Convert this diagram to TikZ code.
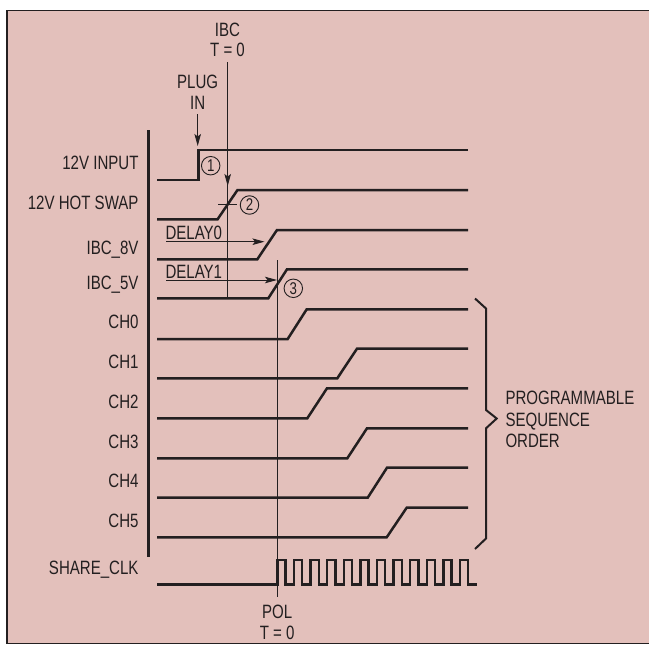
\documentclass[tikz,border=0pt]{standalone}
\usepackage{fontspec}
\setmainfont[FakeStretch=0.78]{Liberation Sans}
\usetikzlibrary{arrows.meta}
\definecolor{bg}{RGB}{227,192,187}
\definecolor{ink}{RGB}{35,31,32}
\begin{document}
\begin{tikzpicture}[x=1pt,y=-1pt,
  every node/.style={inner sep=0pt, outer sep=0pt, text=ink, font=\fontsize{19.3}{21.5}\selectfont},
  lab/.style={anchor=base east},
  toplab/.style={anchor=base},
  sig/.style={draw=ink, line width=2.5pt},
  thinl/.style={draw=ink, line width=0.9pt},
  tip/.style={-{Stealth[length=12pt,width=6.5pt,inset=2.5pt]}},
  circnum/.style={circle, draw=ink, line width=0.9pt, minimum size=18.5pt, font=\fontsize{17}{17}\selectfont}]
\useasboundingbox (0,0) rectangle (649,648);
\fill[white] (-10,-10) rectangle (660,660);
\fill[bg] (7,10.5) rectangle (660,643.5);
\draw[ink, line width=1.2pt] (660,10.5) -- (7,10.5) -- (7,643.5) -- (660,643.5);

% axis
\draw[ink, line width=2.7pt] (148.3,130) -- (148.3,557);

% labels
\node[lab] (l1) at (138.5,169.5) {12V INPUT};
\node[lab] (l2) at (138.5,209.5) {12V HOT SWAP};
\node[lab] (l3) at (138.5,254.5) {IBC\_8V};
\node[lab] (l4) at (138.5,289.5) {IBC\_5V};
\node[lab] (l5) at (138.5,328.3) {CH0};
\node[lab] (l6) at (138.5,368.3) {CH1};
\node[lab] (l7) at (138.5,408) {CH2};
\node[lab] (l8) at (138.5,448.3) {CH3};
\node[lab] (l9) at (138.5,487.8) {CH4};
\node[lab] (l10) at (138.5,527.3) {CH5};
\node[lab] (l11) at (138.5,574.7) {SHARE\_CLK};

% top labels
\node[toplab] (ibc1) at (227.5,36) {IBC};
\node[toplab] (ibc2) at (227.5,56.7) {T = 0};
\node[toplab] (plug1) at (197.7,88.3) {PLUG};
\node[toplab] (plug2) at (197.7,109.3) {IN};
\node[toplab] (pol1) at (277.2,618.3) {POL};
\node[toplab] (pol2) at (277.2,639.3) {T = 0};

% delay labels
\node[anchor=base west] (d0) at (165.5,239) {DELAY0};
\node[anchor=base west] (d1) at (165.5,278.3) {DELAY1};

% programmable
\node[anchor=base west] (p1) at (505.5,404) {PROGRAMMABLE};
\node[anchor=base west] (p2) at (505.5,426) {SEQUENCE};
\node[anchor=base west] (p3) at (505.5,447.3) {ORDER};

% signals
\draw[sig] (157,180) -- (198.3,180) -- (198.3,150) -- (468,150);
\draw[sig] (157,219.4) -- (217.5,219.4) -- (237.5,190) -- (468,190);
\draw[sig] (157,259.3) -- (257.3,259.3) -- (277,230) -- (468,230);
\draw[sig] (157,298.3) -- (268.3,298.3) -- (287,269.3) -- (468,269.3);
\draw[sig] (157,339) -- (287.7,339) -- (306.7,309.3) -- (468,309.3);
\draw[sig] (157,378.3) -- (337.3,378.3) -- (357,348.7) -- (468,348.7);
\draw[sig] (157,418.3) -- (307.3,418.3) -- (327,388.3) -- (468,388.3);
\draw[sig] (157,458.3) -- (347.3,458.3) -- (367,428.3) -- (468,428.3);
\draw[sig] (157,497.7) -- (367.7,497.7) -- (387,467.7) -- (468,467.7);
\draw[sig] (157,537.3) -- (386.7,537.3) -- (406.7,507.7) -- (468,507.7);
% clock
\draw[sig, line width=2.4pt] (157,584.3) -- (277.3,584.3)
  \foreach \i in {1,...,12} { -- ++(0,-24.3) -- ++(8.3,0) -- ++(0,24.3) -- ++(8.3,0) };

% thin time lines
\coordinate (ibctop) at (227.7,62);
\coordinate (ibctip) at (227.7,186);
\coordinate (ibcbot) at (227.7,298.3);
\draw[thinl] (ibctop) -- (ibcbot);
\draw[thinl, tip] (ibctop) -- (ibctip);
\coordinate (poltop) at (277.7,260);
\coordinate (polbot) at (277.7,597);
\draw[thinl] (poltop) -- (polbot);

% plug in arrow
\coordinate (plugs) at (197.7,114);
\coordinate (plugt) at (197.7,146);
\draw[thinl, tip] (plugs) -- (plugt);

% delay arrows
\coordinate (d0s) at (166,241.7);
\coordinate (d0t) at (264.5,241.7);
\draw[thinl, tip] (d0s) -- (d0t);
\coordinate (d1s) at (166,280);
\coordinate (d1t) at (277,280);
\draw[thinl, tip] (d1s) -- (d1t);

% tick on hot swap
\coordinate (tk1) at (218,204);
\coordinate (tk2) at (237,204);
\draw[thinl] (tk1) -- (tk2);

% circled numbers
\node[circnum] (c1) at (210.7,165.7) {1};
\node[circnum] (c2) at (249.5,205) {2};
\node[circnum] (c3) at (293.3,288.3) {3};

% brace
\draw[ink, line width=2pt, line join=miter] (475,298.5) -- (486,308.5) -- (486,410) -- (496.7,418.5) -- (486,428.3) -- (486,538.5) -- (475,549);
\end{tikzpicture}
\end{document}
